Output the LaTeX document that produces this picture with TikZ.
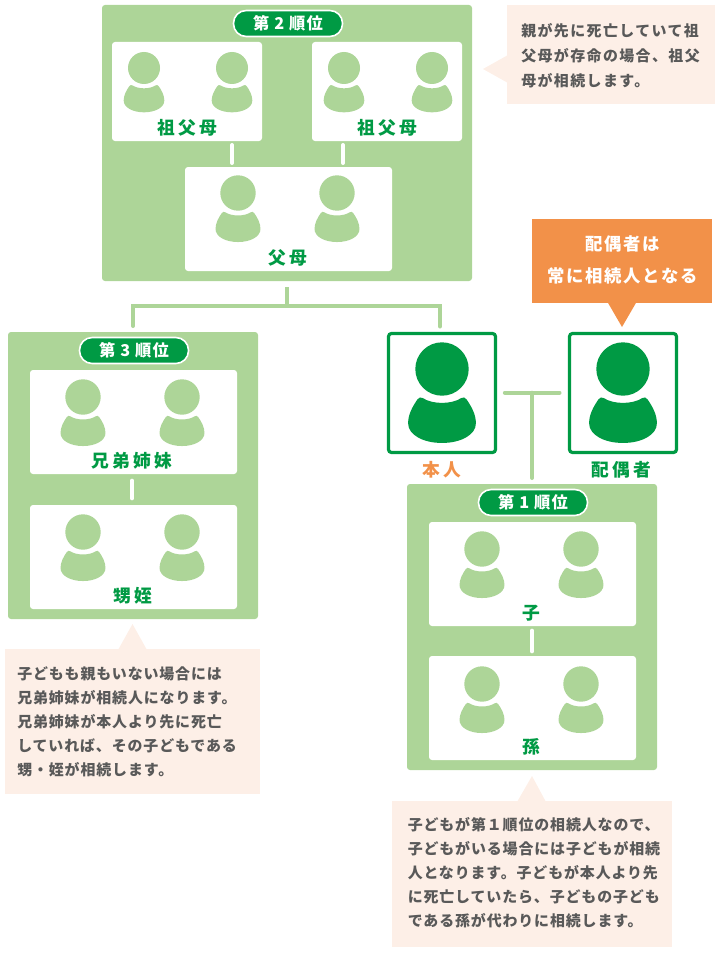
\documentclass[tikz,border=0pt]{standalone}
\usepackage{fontspec}
\usetikzlibrary{calc}
\newfontfamily\notefont[LetterSpace=6]{Noto Sans CJK JP}
\newfontfamily\notewidefont[LetterSpace=9.5]{Noto Sans CJK JP}
\newfontfamily\labfont[LetterSpace=18]{Noto Sans CJK JP}
\newfontfamily\pillfont[LetterSpace=7]{Noto Sans CJK JP}
\newfontfamily\orfont[LetterSpace=10]{Noto Sans CJK JP}
\definecolor{lgreen}{HTML}{ADD598}
\definecolor{dgreen}{HTML}{009A44}
\definecolor{orangeb}{HTML}{F29149}
\definecolor{peach}{HTML}{FDEFE7}
\definecolor{notetxt}{HTML}{595959}
\tikzset{
  x=0.75pt,y=-0.75pt,
  panel/.style={fill=lgreen,rounded corners=2.25pt,inner sep=0pt,outer sep=0pt},
  card/.style={fill=white,rounded corners=2.25pt,inner sep=0pt,outer sep=0pt},
  frame/.style={draw=dgreen,line width=2.4pt,fill=white,rounded corners=2.25pt,inner sep=0pt,outer sep=0pt},
  notebox/.style={fill=peach,inner sep=0pt,outer sep=0pt},
  orbox/.style={fill=orangeb,inner sep=0pt,outer sep=0pt},
  pill/.style={fill=dgreen,draw=white,line width=1.2pt,rounded corners=9.5pt,inner sep=0pt,outer sep=0pt,
     text=white,font=\pillfont\bfseries\fontsize{12.2}{14}\selectfont},
  lab/.style={text=dgreen,inner sep=0pt,font=\labfont\bfseries\fontsize{13.3}{15}\selectfont},
  labo/.style={lab,text=orangeb},
  notetext/.style={text=notetxt,anchor=north west,inner sep=0pt,align=left,
     font=\notefont\bfseries\fontsize{11.2}{18}\selectfont},
  notewide/.style={notetext,font=\notewidefont\bfseries\fontsize{11.2}{18.75}\selectfont},
  ortext/.style={text=white,inner sep=0pt,font=\orfont\bfseries\fontsize{13}{15}\selectfont},
  wline/.style={draw=white,line width=3pt,line cap=round},
  gline/.style={draw=lgreen,line width=3pt,line cap=round},
}
% name, style, x1,y1,x2,y2, text
\newcommand{\bx}[7][]{%
  \pgfmathsetmacro{\bxw}{(#5-#3)*0.75}\pgfmathsetmacro{\bxh}{(#6-#4)*0.75}%
  \pgfmathsetmacro{\bxcx}{(#3+#5)/2}\pgfmathsetmacro{\bxcy}{(#4+#6)/2}%
  \node[#2,minimum width=\bxw pt,minimum height=\bxh pt] (#1) at (\bxcx,\bxcy) {#7};}
\newcommand{\person}[4]{%
  \begin{scope}[shift={(#1,#2)},x=#3*0.75pt,y=-#3*0.75pt]
    \fill[#4] (0,0) circle[radius=1];
    \fill[#4] (-0.72,1.09) .. controls (-0.35,1.33) and (0.35,1.33) .. (0.72,1.09)
      .. controls (0.8,1.04) and (0.86,1.06) .. (0.92,1.14)
      .. controls (1.1,1.4) and (1.27,1.7) .. (1.27,2.03)
      .. controls (1.27,2.47) and (0.7,2.77) .. (0,2.77)
      .. controls (-0.7,2.77) and (-1.27,2.47) .. (-1.27,2.03)
      .. controls (-1.27,1.7) and (-1.1,1.4) .. (-0.92,1.14)
      .. controls (-0.86,1.06) and (-0.8,1.04) .. (-0.72,1.09) -- cycle;
  \end{scope}}
\begin{document}
\begin{tikzpicture}
\useasboundingbox (0,0) rectangle (720,956);
% Panels
\bx[rankb]{panel}{102}{5}{472}{281}{}
\bx[rankc]{panel}{8}{332}{258}{619}{}
\bx[ranka]{panel}{407}{484}{657}{770}{}
% Rank 2
\bx[gpl]{card}{112}{42}{262}{141}{}
\bx[gpr]{card}{312}{42}{462}{141}{}
\bx[par]{card}{185}{167}{392}{271}{}
\bx[pillb]{pill}{233.5}{10.5}{342.5}{36.5}{第 2 順位}
\person{144}{68}{16}{lgreen}\person{232}{68}{16}{lgreen}
\person{344}{68}{16}{lgreen}\person{432}{68}{16}{lgreen}
\person{238}{193}{17.7}{lgreen}\person{337}{193}{17.7}{lgreen}
\node[lab] (lgpl) at (187,128) {祖父母};
\node[lab] (lgpr) at (387,128) {祖父母};
\node[lab] (lpar) at (288,258) {父母};
\coordinate (xl) at (232,0);\coordinate (xr) at (343,0);
\draw[wline,shorten <=3pt,shorten >=3pt] (gpl.south -| xl) -- (par.north -| xl);
\draw[wline,shorten <=3pt,shorten >=3pt] (gpr.south -| xr) -- (par.north -| xr);
% Rank 3
\bx[sib]{card}{30}{370}{237}{474}{}
\bx[nep]{card}{30}{505}{237}{609}{}
\bx[pillc]{pill}{79.5}{337.5}{188.5}{363.5}{第 3 順位}
\person{83}{397}{17.7}{lgreen}\person{182}{397}{17.7}{lgreen}
\person{83}{532}{17.7}{lgreen}\person{182}{532}{17.7}{lgreen}
\node[lab] (lsib) at (131.5,461) {兄弟姉妹};
\node[lab] (lnep) at (133,596) {甥姪};
\draw[wline,shorten <=5pt,shorten >=5pt] (sib.south -| 132,0) -- (nep.north -| 132,0);
% Rank 1
\bx[chi]{card}{429}{522}{636}{626}{}
\bx[gch]{card}{429}{656}{636}{760}{}
\bx[pilla]{pill}{478.5}{489.5}{587.5}{515.5}{第 1 順位}
\person{482}{549}{17.7}{lgreen}\person{581}{549}{17.7}{lgreen}
\person{482}{684}{17.7}{lgreen}\person{581}{684}{17.7}{lgreen}
\node[lab] (lchi) at (531,613) {子};
\node[lab] (lgch) at (531,747) {孫};
\draw[wline,shorten <=3.5pt,shorten >=3.5pt] (chi.south -| 532,0) -- (gch.north -| 532,0);
% Self and spouse
\bx[self]{frame}{388.5}{333.5}{495.5}{452.5}{}
\bx[spouse]{frame}{569.5}{333.5}{676.5}{452.5}{}
\person{442}{369}{26.7}{dgreen}\person{623}{369}{26.7}{dgreen}
\node[labo] (lself) at (442,470) {本人};
\node[lab] (lspouse) at (621,470) {配偶者};
% Connectors
\coordinate (jn) at (287,306);
\coordinate (jl) at (133,306);
\coordinate (jr) at (440,306);
\draw[gline,shorten <=4.5pt,line cap=butt] (rankb.south) -- (jn);
\draw[gline,line join=miter] (rankc.north -| jl) ++(0,-6) -- (jl) -- (jr) -- ($(self.north -| jr)+(0,-7)$);
\coordinate (tj) at (532,392.7);
\draw[gline,shorten <=7pt,shorten >=7.5pt] (self.east |- tj) -- (spouse.west |- tj);
\draw[gline,shorten >=4.5pt] (tj) -- (ranka.north -| tj);
% Orange callout
\bx[orb]{orbox}{532}{219}{712}{303}{}
\fill[orangeb] (607.5,302) -- (622,327) -- (636.5,302) -- cycle;
\node[ortext] (ol1) at (622.5,244) {配偶者は};
\node[ortext] (ol2) at (622.5,276) {常に相続人となる};
% Notes
\bx[ntop]{notebox}{507}{5}{715}{104}{}
\fill[peach] (508,55) -- (483,69) -- (508,83) -- cycle;
\node[notewide] (ttop) at (521,23) {親が先に死亡していて祖\\父母が存命の場合、祖父\\母が相続します。};
\bx[nleft]{notebox}{5}{649}{260}{794}{}
\fill[peach] (118,650) -- (132.5,624) -- (147,650) -- cycle;
\node[notetext] (tleft) at (17,666.5) {子どもも親もいない場合には\\兄弟姉妹が相続人になります。\\兄弟姉妹が本人より先に死亡\\していれば、その子どもである\\甥・姪が相続します。};
\bx[nbot]{notebox}{392}{801}{672}{947}{}
\fill[peach] (517,802) -- (532,776) -- (546,802) -- cycle;
\node[notetext] (tbot) at (407.5,817.5) {子どもが第１順位の相続人なので、\\子どもがいる場合には子どもが相続\\人となります。子どもが本人より先\\に死亡していたら、子どもの子ども\\である孫が代わりに相続します。};
\end{tikzpicture}
\end{document}
